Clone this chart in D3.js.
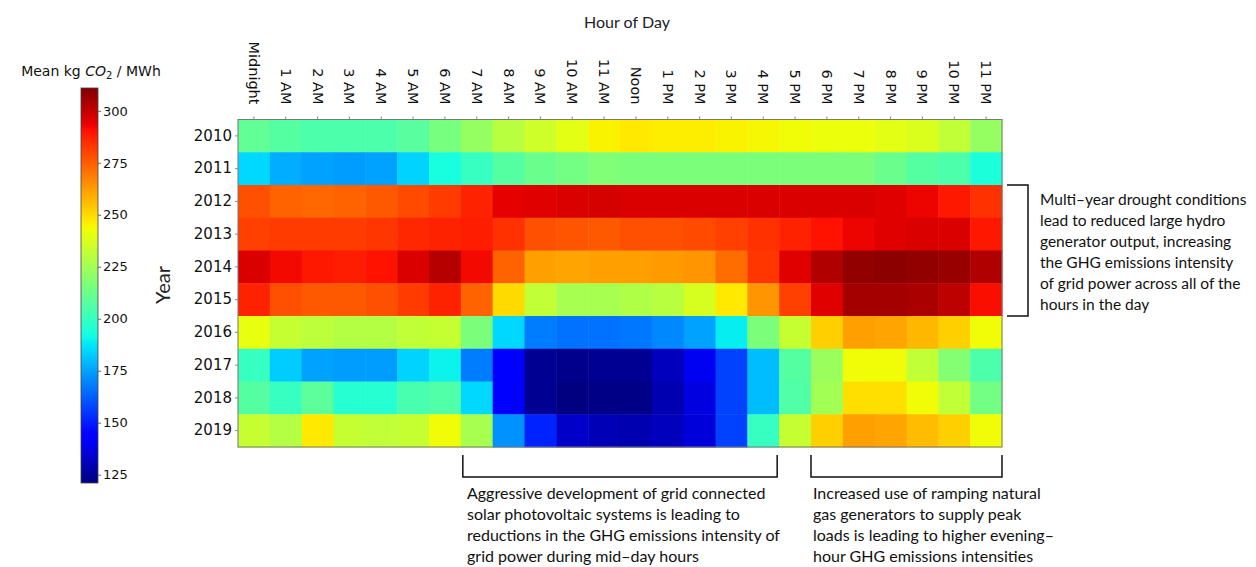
<!DOCTYPE html>
<html>
<head>
<meta charset="utf-8">
<script src="https://cdn.jsdelivr.net/npm/d3@7"></script>
<style>
  body { margin: 0; background: #fff; }
  svg { display: block; }
</style>
</head>
<body>
<svg id="chart" width="1256" height="567"></svg>
<script>
const hours = ["Midnight", "1 AM", "2 AM", "3 AM", "4 AM", "5 AM", "6 AM", "7 AM", "8 AM", "9 AM", "10 AM", "11 AM",
    "Noon", "1 PM", "2 PM", "3 PM", "4 PM", "5 PM", "6 PM", "7 PM", "8 PM", "9 PM", "10 PM", "11 PM"];
const years = ["2010", "2011", "2012", "2013", "2014", "2015", "2016", "2017", "2018", "2019"];

// mean kg CO2 / MWh, one value per hour
const y2010 = [210, 207, 205, 205, 205, 208, 215, 222, 230, 235, 240, 245, 247, 246, 246, 245, 244, 243, 242, 242, 240, 238, 232, 222];
const y2011 = [185, 177, 175, 174, 175, 184, 193, 200, 207, 212, 214, 217, 216, 216, 216, 216, 216, 216, 216, 216, 212, 207, 205, 194];
const y2012 = [278, 274, 273, 274, 276, 279, 282, 287, 294, 295, 296, 297, 296, 296, 296, 296, 296, 296, 296, 296, 295, 293, 289, 284];
const y2013 = [281, 282, 282, 282, 283, 286, 287, 288, 284, 278, 277, 276, 278, 278, 279, 281, 284, 287, 290, 293, 295, 296, 296, 289];
const y2014 = [296, 292, 289, 288, 290, 296, 302, 292, 274, 262, 261, 262, 262, 263, 264, 272, 283, 295, 303, 308, 309, 308, 307, 303];
const y2015 = [287, 278, 276, 276, 278, 282, 287, 274, 250, 232, 226, 226, 228, 230, 237, 247, 264, 281, 295, 305, 305, 304, 301, 291];
const y2016 = [241, 233, 231, 229, 229, 232, 233, 216, 185, 168, 166, 166, 167, 170, 175, 189, 216, 233, 252, 262, 261, 257, 252, 243];
const y2017 = [200, 183, 175, 174, 174, 184, 190, 168, 143, 124, 123, 124, 124, 131, 140, 157, 180, 207, 223, 243, 243, 232, 218, 205];
const y2018 = [207, 200, 209, 196, 196, 204, 206, 185, 143, 124, 121, 122, 122, 129, 137, 157, 180, 206, 225, 249, 249, 243, 232, 214];
const y2019 = [233, 229, 247, 233, 232, 233, 243, 226, 172, 151, 133, 130, 129, 131, 136, 157, 200, 233, 252, 262, 261, 256, 252, 243];
const rows = [y2010, y2011, y2012, y2013, y2014, y2015, y2016, y2017, y2018, y2019];

const cbTicks = [125, 150, 175, 200, 225, 250, 275, 300];
const cbDomain = [121, 311];

const droughtNote = ["Multi\u2013year drought conditions", "lead to reduced large hydro", "generator output, increasing",
    "the GHG emissions intensity", "of grid power across all of the", "hours in the day"];
const solarNote = ["Aggressive development of grid connected", "solar photovoltaic  systems is leading to",
    "reductions in the GHG emissions intensity of", "grid power during mid\u2013day hours"];
const gasNote = ["Increased use of ramping natural", "gas generators to supply peak",
    "loads is leading to higher evening\u2013", "hour GHG emissions intensities"];

// matplotlib "jet" segment data
const jetR = [[0, 0], [0.35, 0], [0.66, 1], [0.89, 1], [1, 0.5]];
const jetG = [[0, 0], [0.125, 0], [0.375, 1], [0.64, 1], [0.91, 0], [1, 0]];
const jetB = [[0, 0.5], [0.11, 1], [0.34, 1], [0.65, 0], [1, 0]];
function seg(s, t) {
    for (let i = 1; i < s.length; i++) {
        if (t <= s[i][0]) {
            let f = (t - s[i-1][0]) / (s[i][0] - s[i-1][0]);
            return s[i-1][1] + f * (s[i][1] - s[i-1][1]);
        }
    }
    return s[s.length-1][1];
}
function jet(t) {
    t = Math.max(0, Math.min(1, t));
    return d3.rgb(255 * seg(jetR, t), 255 * seg(jetG, t), 255 * seg(jetB, t)).toString();
}

const svg = d3.select("#chart");
const dims = { left: 238, right: 1002, top: 119.5, bottom: 447 };

let x = d3.scaleBand().domain(hours).range([dims.left, dims.right]);
let y = d3.scaleBand().domain(years).range([dims.top, dims.bottom]);
let norm = d3.scaleLinear().domain(cbDomain).range([0, 1]);

let cells = [];
rows.forEach((vals, i) => {
    vals.forEach((v, j) => cells.push({ year: years[i], hour: hours[j], value: v }));
});

svg.append("g")
    .selectAll("rect")
    .data(cells)
    .enter()
    .append("rect")
    .attr("x", d => x(d.hour))
    .attr("y", d => y(d.year))
    .attr("width", x.bandwidth() + 0.5)
    .attr("height", y.bandwidth() + 0.5)
    .attr("fill", d => jet(norm(d.value)));

svg.append("rect")
    .attr("x", dims.left).attr("y", dims.top)
    .attr("width", dims.right - dims.left).attr("height", dims.bottom - dims.top)
    .attr("fill", "none").attr("stroke", "#777").attr("stroke-width", 1);

// x axis on top, labels rotated
let xAx = svg.append("g")
    .attr("transform", "translate(0," + dims.top + ")")
    .call(d3.axisTop(x).tickSize(3).tickPadding(0));
xAx.select(".domain").remove();
xAx.selectAll("line").attr("stroke", "#888");
xAx.selectAll("text")
    .attr("font-family", "DejaVu Sans")
    .attr("font-size", 14.5)
    .attr("fill", "#111")
    .attr("text-anchor", "end")
    .attr("transform", "translate(0,-15) rotate(90)")
    .attr("x", 0).attr("y", 0).attr("dy", "0.35em");

let yAx = svg.append("g")
    .attr("transform", "translate(" + dims.left + ",0)")
    .call(d3.axisLeft(y).tickSize(3).tickPadding(3));
yAx.select(".domain").remove();
yAx.selectAll("line").attr("stroke", "#888");
yAx.selectAll("text")
    .attr("font-family", "DejaVu Sans")
    .attr("font-size", 15)
    .attr("fill", "#111");

svg.append("text")
    .attr("x", 627).attr("y", 28)
    .attr("text-anchor", "middle")
    .attr("font-family", "Lato").attr("font-size", 16).attr("fill", "#222")
    .text("Hour of Day");

svg.append("text")
    .attr("transform", "translate(170,285) rotate(-90)")
    .attr("text-anchor", "middle")
    .attr("font-family", "Lato").attr("font-size", 20).attr("fill", "#222")
    .text("Year");

// colour bar
let cb = d3.scaleLinear().domain(cbDomain).range([483, 88]);
let grad = svg.append("defs").append("linearGradient")
    .attr("id", "jetgrad")
    .attr("x1", 0).attr("y1", 1).attr("x2", 0).attr("y2", 0);
grad.selectAll("stop")
    .data(d3.range(0, 1.0001, 0.01))
    .enter()
    .append("stop")
    .attr("offset", d => d)
    .attr("stop-color", d => jet(d));

svg.append("rect")
    .attr("x", 81).attr("y", cb(cbDomain[1]))
    .attr("width", 17).attr("height", cb(cbDomain[0]) - cb(cbDomain[1]))
    .attr("fill", "url(#jetgrad)")
    .attr("stroke", "#444").attr("stroke-width", 0.8);

let cbAx = svg.append("g")
    .attr("transform", "translate(98,0)")
    .call(d3.axisRight(cb).tickValues(cbTicks).tickSize(3).tickPadding(2));
cbAx.select(".domain").remove();
cbAx.selectAll("line").attr("stroke", "#666");
cbAx.selectAll("text")
    .attr("font-family", "DejaVu Sans")
    .attr("font-size", 13)
    .attr("fill", "#111");

let cbTitle = svg.append("text")
    .attr("x", 91).attr("y", 76)
    .attr("text-anchor", "middle")
    .attr("font-family", "DejaVu Sans").attr("font-size", 14).attr("fill", "#111");
cbTitle.append("tspan").text("Mean kg ");
cbTitle.append("tspan").attr("font-style", "italic").text("CO");
cbTitle.append("tspan").attr("font-size", 10).attr("dy", 3).text("2");
cbTitle.append("tspan").attr("dy", -3).text(" / MWh");

// annotation brackets
let br = svg.append("g").attr("fill", "none").attr("stroke", "#111").attr("stroke-width", 1.5);
br.append("path")
    .attr("d", "M" + (dims.right + 5) + "," + y("2012") + "H1028V" + (y("2015") + y.bandwidth()) + "H" + (dims.right + 5));
br.append("path")
    .attr("d", "M" + (x("7 AM") + 2) + ",455V477H" + (x("4 PM") + x.bandwidth() - 2) + "V455");
br.append("path")
    .attr("d", "M" + x("6 PM") + ",455V477H" + dims.right + "V455");

function note(lines, x0, y0, size) {
    svg.append("g")
        .selectAll("text")
        .data(lines)
        .enter()
        .append("text")
        .attr("x", x0)
        .attr("y", (d, i) => y0 + i * 21)
        .attr("font-family", "Lato").attr("font-size", size).attr("fill", "#111")
        .text(d => d);
}
note(droughtNote, 1040, 205, 15.5);
note(solarNote, 467, 499, 16);
note(gasNote, 813, 499, 16);
</script>
</body>
</html>
